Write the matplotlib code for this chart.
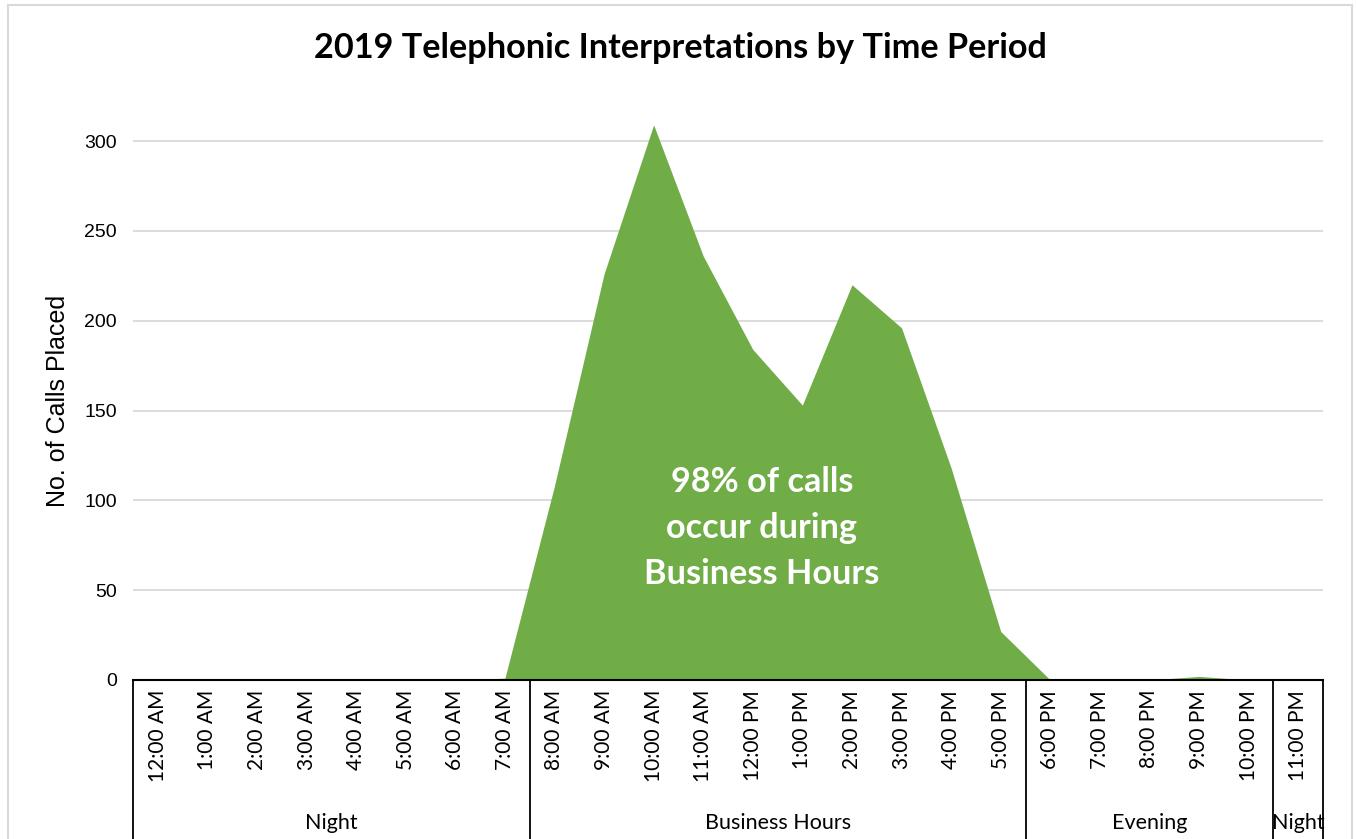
import matplotlib
matplotlib.use('Agg')
import matplotlib.pyplot as plt
from matplotlib.patches import Rectangle
import numpy as np

# hourly categories and calls placed (2019)
hours = ['12:00 AM', '1:00 AM', '2:00 AM', '3:00 AM', '4:00 AM', '5:00 AM',
         '6:00 AM', '7:00 AM', '8:00 AM', '9:00 AM', '10:00 AM', '11:00 AM',
         '12:00 PM', '1:00 PM', '2:00 PM', '3:00 PM', '4:00 PM', '5:00 PM',
         '6:00 PM', '7:00 PM', '8:00 PM', '9:00 PM', '10:00 PM', '11:00 PM']
calls = [0, 0, 0, 0, 0, 0, 0, 1, 108, 226, 309, 236,
         184, 153, 220, 196, 118, 27, 0, 0, 0, 2, 0, 0]

# time period groups (label, number of hours)
periods = ['Night', 'Business Hours', 'Evening', 'Night']
period_len = [8, 10, 5, 1]

yticks = [0, 50, 100, 150, 200, 250, 300]

title = '2019 Telephonic Interpretations by Time Period'
note = '98% of calls\noccur during\nBusiness Hours'

green = '#70AD47'
label_font = ['Lato', 'DejaVu Sans']

W, H = 1356, 839
fig = plt.figure(figsize=(W / 100, H / 100), dpi=100)

# chart border
fig.patches.append(Rectangle((8 / W, -0.01), (1352 - 8) / W, (H - 5) / H + 0.01,
                             transform=fig.transFigure, fill=False,
                             edgecolor='#D9D9D9', lw=1.5))

left, right = 133 / W, 1323 / W
bottom = 1 - 680 / H
ymax = 320
top = 1 - (680 - ymax * 539 / 300) / H
ax = fig.add_axes([left, bottom, right - left, top - bottom])

x = np.arange(len(hours))
ax.fill_between(x, calls, 0, color=green, lw=0, zorder=2)

ax.set_xlim(-0.5, len(hours) - 0.5)
ax.set_ylim(0, ymax)
ax.set_yticks(yticks)
ax.set_yticklabels([str(t) for t in yticks], family='Liberation Sans', fontsize=14)
ax.tick_params(axis='y', length=0, pad=11.5)
ax.set_xticks([])
for t in yticks[1:]:
    ax.axhline(t, color='#D9D9D9', lw=1.3, zorder=1)

for s in ['top', 'right', 'left']:
    ax.spines[s].set_visible(False)
ax.spines['bottom'].set_color('black')
ax.spines['bottom'].set_linewidth(1.5)
ax.spines['bottom'].set_zorder(3)

ax_h = (top - bottom) * H
def py(px):
    # pixel row -> axes fraction
    return (680 - px) / ax_h

ax.set_ylabel('No. of Calls Placed', family='Liberation Sans', fontsize=18)
ax.yaxis.set_label_coords((70 - 133) / (right - left) / W, py(401))

# multi-level category axis
tr = ax.get_xaxis_transform()
for i, lab in enumerate(hours):
    ax.text(i, py(690), lab, transform=tr, rotation=90, ha='center', va='top',
            fontsize=15, family=label_font, clip_on=False)

edge = -0.5
ax.plot([edge, edge], [0, py(H + 5)], transform=tr, color='black', lw=1.3, clip_on=False)
for lab, n in zip(periods, period_len):
    mid = edge + n / 2
    ax.text(mid, py(823), lab, transform=tr, ha='center', va='center',
            fontsize=15.5, family=label_font, clip_on=False)
    edge += n
    ax.plot([edge, edge], [0, py(H + 5)], transform=tr, color='black', lw=1.3, clip_on=False)

fig.text(680 / W, 1 - 48 / H, title, ha='center', va='center', fontsize=24.7,
         fontweight='bold', family=label_font)

fig.text(762 / W, 1 - 528 / H, note, ha='center', va='center', color='white',
         fontsize=24.7, fontweight='bold', family=label_font, linespacing=1.53)

fig.savefig('out.png', dpi=100)
